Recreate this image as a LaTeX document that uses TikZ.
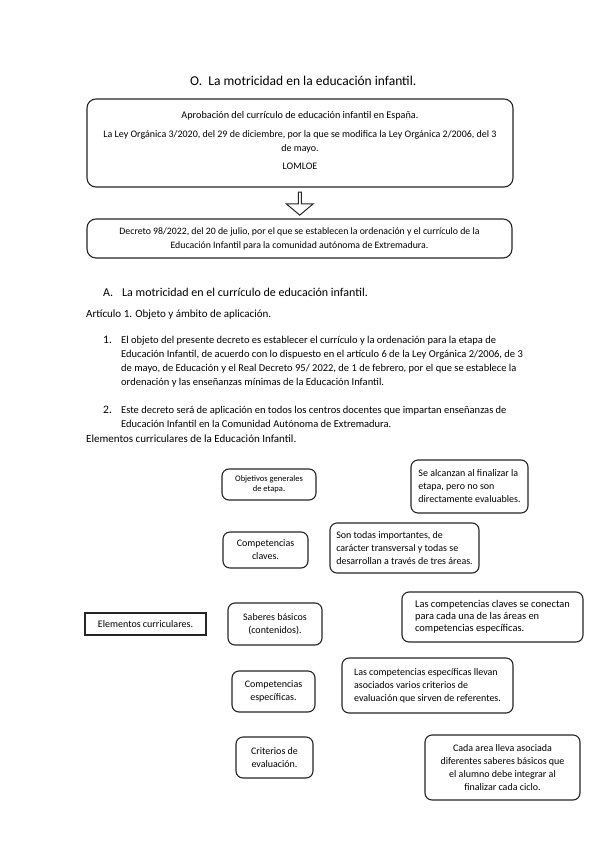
\documentclass[tikz,border=0pt]{standalone}
\usepackage{fontspec}
\setmainfont{Carlito}
\usetikzlibrary{shapes.arrows, positioning, calc}

\begin{document}
\begin{tikzpicture}[
  x=1pt, y=-1pt,
  font=\fontsize{10.5}{14}\selectfont,
  frame/.style={draw=black!85, line width=1.1pt, rounded corners=9pt, inner sep=0pt, align=center},
  rbox/.style={draw=black!85, line width=1.1pt, rounded corners=7pt, inner sep=0pt, align=center, font=\fontsize{10}{13}\selectfont},
  lbox/.style={rbox, align=left},
  sqbox/.style={draw=black!85, line width=1.1pt, inner sep=0pt, align=center, font=\fontsize{10}{13}\selectfont},
  para/.style={anchor=base west, inner sep=0pt, align=left},
  hollow/.style={single arrow, draw=black!85, line width=1pt, shape border rotate=270, minimum height=23pt, minimum width=27pt, single arrow head extend=4pt, single arrow tip angle=100, inner sep=0pt},
]
\useasboundingbox (0,0) rectangle (599,848);
\fill[white] (0,0) rectangle (599,848);

\node[para, font=\fontsize{13.5}{16}\selectfont] (title) at (190,86) {O.\ \ La motricidad en la educación infantil.};

\node[frame, minimum width=426pt, minimum height=88pt] (ley) at (300,143) {};
\node[inner sep=0pt, anchor=base, font=\fontsize{10.2}{14}\selectfont] (ley1) at (300,118) {Aprobación del currículo de educación infantil en España.};
\node[inner sep=0pt, anchor=base, align=center, font=\fontsize{10}{14}\selectfont] (ley2) at (300,151) {La Ley Orgánica 3/2020, del 29 de diciembre, por la que se modifica la Ley Orgánica 2/2006, del 3\\ de mayo.};
\node[inner sep=0pt, anchor=base, font=\fontsize{10}{14}\selectfont] (ley3) at (300,169) {LOMLOE};

\node[frame, minimum width=425pt, minimum height=39pt, font=\fontsize{9.8}{14}\selectfont] (decreto) at (299.5,238.5) {Decreto 98/2022, del 20 de julio, por el que se establecen la ordenación y el currículo de la\\ Educación Infantil para la comunidad autónoma de Extremadura.};

\node[hollow] (flecha) at ($(ley.south)!0.5!(decreto.north)$) {};

\node[para, font=\fontsize{12}{14}\selectfont] (secA) at (103,296) {A.};
\node[para, font=\fontsize{12}{14}\selectfont] (secAtxt) at (122,296) {La motricidad en el currículo de educación infantil.};
\node[para, font=\fontsize{11}{14}\selectfont] (art) at (86,317) {Artículo 1. Objeto y ámbito de aplicación.};
\node[para, font=\fontsize{11.5}{13}\selectfont] (n1) at (103,343) {1.};
\node[para] (item1) at (121,385) {El objeto del presente decreto es establecer el currículo y la ordenación para la etapa de\\ Educación Infantil, de acuerdo con lo dispuesto en el artículo 6 de la Ley Orgánica 2/2006, de 3\\ de mayo, de Educación y el Real Decreto 95/ 2022, de 1 de febrero, por el que se establece la\\ ordenación y las enseñanzas mínimas de la Educación Infantil.};
\node[para, font=\fontsize{11.5}{13}\selectfont] (n2) at (103,413) {2.};
\node[para] (item2) at (121,427) {Este decreto será de aplicación en todos los centros docentes que impartan enseñanzas de\\ Educación Infantil en la Comunidad Autónoma de Extremadura.};
\node[para, font=\fontsize{11}{14}\selectfont] (elem) at (86,442) {Elementos curriculares de la Educación Infantil.};

\node[rbox, minimum width=94pt, minimum height=31pt, font=\fontsize{8.5}{10}\selectfont] (objetivos) at (269,484.5) {Objetivos generales\\ de etapa.};
\node[lbox, minimum width=117pt, minimum height=53pt] (alcanzan) at (469.5,486.5) {Se alcanzan al finalizar la\\ etapa, pero no son\\ directamente evaluables.};
\node[rbox, minimum width=85pt, minimum height=36pt] (claves) at (265.5,550) {Competencias\\ claves.};
\node[lbox, minimum width=149pt, minimum height=50pt] (todas) at (404.5,548) {Son todas importantes, de\\ carácter transversal y todas se\\ desarrollan a través de tres áreas.};
\node[sqbox, minimum width=121pt, minimum height=22pt] (elementos) at (145.5,624) {Elementos curriculares.};
\node[rbox, minimum width=94pt, minimum height=42pt] (saberes) at (275,624) {Saberes básicos\\ (contenidos).};
\node[lbox, minimum width=181pt, minimum height=50pt, font=\fontsize{10.4}{12}\selectfont] (conectan) at (492.5,617) {Las competencias claves se conectan\\ para cada una de las áreas en\\ competencias específicas.};
\node[rbox, minimum width=83pt, minimum height=41pt] (especificas) at (273.5,691.5) {Competencias\\ específicas.};
\node[lbox, minimum width=171pt, minimum height=55pt] (llevan) at (427.5,685.5) {Las competencias específicas llevan\\ asociados varios criterios de\\ evaluación que sirven de referentes.};
\node[rbox, minimum width=77pt, minimum height=41pt] (criterios) at (274.5,757.5) {Criterios de\\ evaluación.};
\node[rbox, minimum width=155pt, minimum height=65pt] (area) at (502.5,767.5) {Cada area lleva asociada\\ diferentes saberes básicos que\\ el alumno debe integrar al\\ finalizar cada ciclo.};
\end{tikzpicture}
\end{document}
